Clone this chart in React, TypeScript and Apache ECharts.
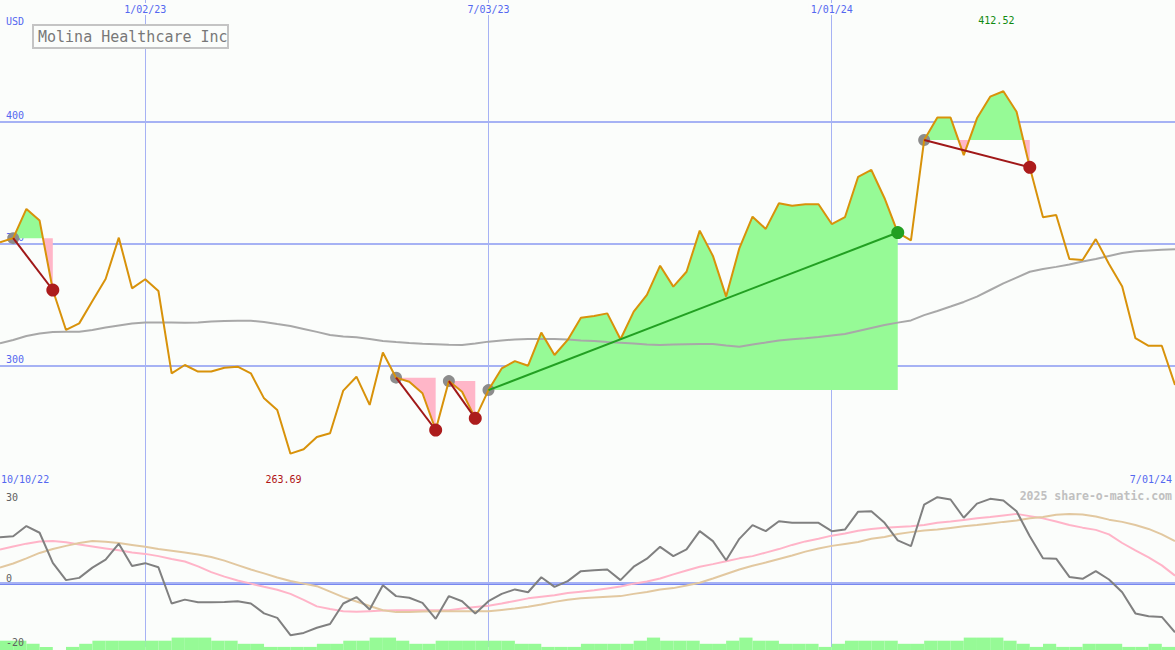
import React, { useEffect, useRef } from 'react';
import * as echarts from 'echarts';

// Weekly sessions shown on the chart
const dates = [
  '10/17/22','10/24/22','10/31/22','11/07/22','11/14/22','11/21/22','11/28/22','12/05/22','12/12/22','12/19/22',
  '12/26/22','1/02/23','1/09/23','1/16/23','1/23/23','1/30/23','2/06/23','2/13/23','2/20/23','2/27/23',
  '3/06/23','3/13/23','3/20/23','3/27/23','4/03/23','4/10/23','4/17/23','4/24/23','5/01/23','5/08/23',
  '5/15/23','5/22/23','5/29/23','6/05/23','6/12/23','6/19/23','6/26/23','7/03/23','7/10/23','7/17/23',
  '7/24/23','7/31/23','8/07/23','8/14/23','8/21/23','8/28/23','9/04/23','9/11/23','9/18/23','9/25/23',
  '10/02/23','10/09/23','10/16/23','10/23/23','10/30/23','11/06/23','11/13/23','11/20/23','11/27/23','12/04/23',
  '12/11/23','12/18/23','12/25/23','1/01/24','1/08/24','1/15/24','1/22/24','1/29/24','2/05/24','2/12/24',
  '2/19/24','2/26/24','3/04/24','3/11/24','3/18/24','3/25/24','4/01/24','4/08/24','4/15/24','4/22/24',
  '4/29/24','5/06/24','5/13/24','5/20/24','5/27/24','6/03/24','6/10/24','6/17/24','6/24/24','7/01/24',
];
const gridDates = ['1/02/23', '7/03/23', '1/01/24'];
const rangeStart = '10/10/22';
const rangeEnd = '7/01/24';

const price = [
  350.5, 352.2, 364.2, 359.4, 330.9, 314.5, 317.2, 326.4, 335.4, 352.4,
  331.6, 335.3, 330.5, 296.7, 300.1, 297.4, 297.4, 299.0, 299.4, 296.7,
  286.4, 281.6, 263.69, 265.5, 270.5, 272.1, 289.6, 295.3, 283.7, 305.2,
  294.9, 293.2, 288.5, 273.4, 293.5, 289.1, 278.2, 289.8, 298.7, 301.7,
  299.8, 313.4, 304.2, 310.4, 319.5, 320.2, 321.3, 310.7, 322.0, 328.9,
  340.9, 332.3, 338.4, 355.3, 344.9, 328.2, 348.0, 361.0, 356.0, 366.5,
  365.5, 366.1, 366.1, 358.0, 360.8, 377.4, 380.2, 368.6, 354.5, 351.3,
  392.5, 401.7, 401.7, 386.3, 401.4, 410.3, 412.52, 404.1, 381.3, 360.8,
  361.7, 343.6, 343.2, 351.8, 341.6, 332.3, 311.1, 308.0, 308.0, 291.9,
];
const priceMA = [
  309.0, 310.4, 312.0, 313.0, 313.7, 313.8, 313.8, 314.5, 315.5, 316.3,
  317.1, 317.6, 317.6, 317.6, 317.5, 317.6, 318.0, 318.2, 318.3, 318.3,
  317.8, 316.9, 316.1, 314.9, 313.7, 312.4, 311.8, 311.5, 310.8, 310.0,
  309.5, 309.1, 308.8, 308.6, 308.4, 308.3, 308.9, 309.7, 310.2, 310.6,
  310.8, 310.8, 310.8, 310.6, 310.2, 310.0, 309.5, 309.2, 308.9, 308.5,
  308.3, 308.5, 308.6, 308.7, 308.7, 308.1, 307.6, 308.5, 309.3, 310.2,
  310.7, 311.1, 311.6, 312.2, 312.8, 314.1, 315.3, 316.5, 317.5, 318.4,
  320.6, 322.3, 324.1, 326.0, 328.2, 330.9, 333.6, 336.0, 338.4, 339.5,
  340.4, 341.4, 342.6, 343.6, 344.9, 346.1, 346.8, 347.1, 347.4, 347.6,
];
const oscillator = [
  14.3, 14.6, 17.8, 15.7, 6.3, 0.9, 1.6, 4.8, 7.3, 12.3,
  5.3, 6.2, 4.9, -6.4, -5.2, -6.0, -6.0, -5.9, -5.7, -6.4,
  -9.5, -10.9, -16.3, -15.6, -14.0, -12.8, -6.4, -4.4, -8.3, -0.7,
  -4.1, -4.6, -6.2, -11.2, -4.1, -5.7, -9.5, -5.7, -3.4, -2.0,
  -2.9, 1.8, -1.2, 0.6, 3.7, 4.0, 4.2, 0.9, 5.1, 7.6,
  11.3, 8.4, 10.5, 16.2, 13.1, 7.1, 13.8, 18.1, 16.2, 19.3,
  18.8, 18.8, 18.8, 16.2, 16.7, 22.3, 22.4, 18.8, 13.3, 11.5,
  24.5, 26.8, 26.1, 20.4, 24.8, 26.3, 25.8, 22.4, 14.6, 7.7,
  7.6, 1.9, 1.3, 3.7, 1.1, -2.9, -9.5, -10.4, -10.6, -15.4,
];
const oscFast = [
  10.5, 11.4, 12.3, 13.0, 13.1, 12.7, 12.0, 11.4, 10.8, 10.2,
  9.5, 9.1, 8.4, 7.5, 6.7, 5.2, 3.4, 2.0, 0.8, -0.2,
  -1.2, -2.1, -3.4, -5.3, -7.3, -8.1, -8.8, -9.0, -8.8, -8.6,
  -8.5, -8.5, -8.5, -8.5, -8.5, -8.0, -7.5, -7.1, -6.4, -5.6,
  -4.8, -4.3, -3.8, -3.1, -2.7, -2.3, -1.7, -1.1, -0.2, 0.5,
  1.4, 2.7, 3.9, 5.1, 5.9, 6.8, 7.7, 8.4, 9.5, 10.6,
  11.9, 13.0, 13.8, 14.8, 15.5, 16.3, 16.9, 17.3, 17.5, 17.7,
  18.1, 18.8, 19.2, 19.7, 20.2, 20.6, 21.1, 21.6, 20.9, 20.2,
  19.2, 18.1, 17.3, 16.6, 15.2, 12.5, 10.2, 8.0, 5.5, 2.3,
];
const oscSlow = [
  4.8, 6.1, 7.7, 9.4, 10.6, 11.6, 12.5, 13.1, 12.9, 12.5,
  11.9, 11.3, 10.6, 10.1, 9.5, 8.9, 8.1, 7.0, 5.6, 4.2,
  3.0, 1.7, 0.6, -0.2, -1.0, -2.7, -4.4, -5.8, -7.2, -8.5,
  -9.1, -9.1, -8.9, -8.8, -8.8, -8.8, -8.8, -8.8, -8.4, -8.0,
  -7.4, -6.7, -5.9, -5.2, -4.8, -4.5, -4.3, -4.1, -3.4, -2.8,
  -2.0, -1.6, -0.8, 0.1, 1.4, 2.8, 4.2, 5.4, 6.4, 7.5,
  8.6, 9.8, 10.8, 11.6, 12.2, 12.8, 13.8, 14.4, 15.3, 15.9,
  16.4, 16.7, 17.2, 17.7, 18.1, 18.6, 19.1, 19.5, 20.2, 20.6,
  21.3, 21.6, 21.4, 20.8, 19.8, 19.1, 18.1, 16.9, 15.2, 13.1,
];
const volumeLevel = [
  3, 3, 2, 1, 0, 1, 2, 3, 3, 3,
  3, 3, 3, 4, 4, 4, 3, 3, 2, 2,
  1, 1, 1, 1, 2, 2, 3, 3, 4, 4,
  3, 2, 2, 3, 3, 3, 3, 3, 3, 2,
  2, 1, 1, 1, 2, 2, 2, 2, 3, 4,
  3, 3, 3, 2, 2, 3, 4, 3, 3, 2,
  2, 2, 1, 2, 3, 3, 3, 3, 2, 2,
  3, 3, 3, 4, 4, 4, 3, 2, 1, 2,
  1, 1, 2, 2, 2, 1, 1, 2, 1,
];
const tradeStart = [1, 30, 34, 37, 70];
const tradeEnd = [4, 33, 36, 68, 78];
const priceTicks = [300, 350, 400];
const oscTicks = [-20, 0];
const oscTop = 30;

const BG = '#fbfdfb';
const MONO = '"DejaVu Sans Mono", monospace';
const BLUE = '#5468f0';
const GRIDC = '#a6b2f4';
const GREEN_FILL = '#96fa96';
const PINK_FILL = '#ffb6c8';
const ORANGE = '#d8920a';

export default function App() {
  const ref = useRef<HTMLDivElement>(null);
  useEffect(() => {
    if (!ref.current) return;
    const chart = echarts.init(ref.current, undefined, { renderer: 'svg' });
    const isGrid = (_i: number, v: string) => gridDates.includes(v);

    const fillSeries = {
      type: 'custom',
      xAxisIndex: 0,
      yAxisIndex: 0,
      silent: true,
      z: 2,
      data: tradeStart.map((s) => [s, price[s]]),
      renderItem: (params: any, api: any) => {
        const k = params.dataIndex;
        const s = tradeStart[k];
        const e = tradeEnd[k];
        const L = price[s];
        const levelY = api.coord([s, L])[1];
        const pts: number[][] = [];
        for (let i = s; i <= e; i++) {
          const c = api.coord([i, price[i]]);
          pts.push([c[0], c[1]]);
          if (i < e) {
            const d0 = price[i] - L;
            const d1 = price[i + 1] - L;
            if (d0 * d1 < 0) {
              const t = d0 / (d0 - d1);
              const c1 = api.coord([i + 1, price[i + 1]]);
              pts.push([c[0] + t * (c1[0] - c[0]), levelY]);
            }
          }
        }
        const x0 = pts[0][0];
        const x1 = pts[pts.length - 1][0];
        const up = pts.map((p) => [p[0], Math.min(p[1], levelY)]);
        const dn = pts.map((p) => [p[0], Math.max(p[1], levelY)]);
        up.push([x1, levelY], [x0, levelY]);
        dn.push([x1, levelY], [x0, levelY]);
        return {
          type: 'group',
          children: [
            { type: 'polygon', shape: { points: up }, style: { fill: GREEN_FILL } },
            { type: 'polygon', shape: { points: dn }, style: { fill: PINK_FILL } },
          ],
        };
      },
    };

    const tradeLines = tradeStart.map((s, k) => {
      const e = tradeEnd[k];
      const win = price[e] > price[s];
      return {
        type: 'line',
        xAxisIndex: 0,
        yAxisIndex: 0,
        data: [[s, price[s]], [e, price[e]]],
        symbol: 'none',
        silent: true,
        z: 4,
        lineStyle: { color: win ? '#22a022' : '#a01818', width: 2 },
      };
    });

    const option: any = {
      animation: false,
      backgroundColor: BG,
      grid: [
        { left: 0, right: 0, top: 0, height: 487, outerBoundsMode: 'none', containLabel: false },
        { left: 0, right: 0, top: 487, height: 160, outerBoundsMode: 'none', containLabel: false },
        { left: 0, right: 0, bottom: 0, height: 31, outerBoundsMode: 'none', containLabel: false },
      ],
      xAxis: [
        {
          type: 'category', gridIndex: 0, data: dates, boundaryGap: false, position: 'top',
          axisLine: { show: false }, axisTick: { show: false },
          axisLabel: {
            inside: true, interval: isGrid, color: BLUE, fontFamily: MONO, fontSize: 10,
            margin: 3, backgroundColor: BG, padding: [1, 2],
          },
          splitLine: { show: true, interval: isGrid, lineStyle: { color: GRIDC, width: 1 } },
        },
        {
          type: 'category', gridIndex: 1, data: dates, boundaryGap: false, position: 'top',
          axisLine: { show: true, lineStyle: { color: '#7888f0', width: 3 } },
          axisTick: { show: false }, axisLabel: { show: false },
          splitLine: { show: true, interval: isGrid, lineStyle: { color: GRIDC, width: 1 } },
        },
        {
          type: 'category', gridIndex: 2, data: dates.slice(1), boundaryGap: true, show: false,
        },
      ],
      yAxis: [
        {
          type: 'value', gridIndex: 0, min: 250, max: 450, interval: 50,
          axisLine: { show: false }, axisTick: { show: false },
          axisLabel: {
            inside: true, margin: 6, color: BLUE, fontFamily: MONO, fontSize: 10,
            lineHeight: 12, verticalAlign: 'middle',
            formatter: (v: number) => (priceTicks.includes(v) ? v + '\n ' : ''),
          },
          splitLine: {
            lineStyle: { color: ['rgba(0,0,0,0)', GRIDC, GRIDC, GRIDC, 'rgba(0,0,0,0)'], width: 2 },
          },
        },
        {
          type: 'value', gridIndex: 1, min: -20, max: 30, interval: 10, z: 2,
          axisLine: { show: false }, axisTick: { show: false },
          axisLabel: {
            inside: true, margin: 6, color: '#606060', fontFamily: MONO, fontSize: 10,
            lineHeight: 10, verticalAlign: 'middle',
            formatter: (v: number) =>
              v === oscTop ? ' \n \n' + v : oscTicks.includes(v) ? v + '\n ' : '',
          },
          splitLine: {
            lineStyle: {
              color: ['rgba(0,0,0,0)', 'rgba(0,0,0,0)', GRIDC, 'rgba(0,0,0,0)', 'rgba(0,0,0,0)', 'rgba(0,0,0,0)'],
              width: 2,
            },
          },
        },
        { type: 'value', gridIndex: 2, min: 0, max: 10, show: false },
      ],
      series: [
        fillSeries,
        {
          type: 'line', xAxisIndex: 0, yAxisIndex: 0, data: priceMA, symbol: 'none', silent: true, z: 2,
          lineStyle: { color: '#a8a8a8', width: 2 },
        },
        {
          type: 'scatter', xAxisIndex: 0, yAxisIndex: 0, silent: true, z: 2,
          data: tradeStart.map((s) => [s, price[s]]), symbolSize: 12,
          itemStyle: { color: '#8c8c8c', opacity: 1 },
        },
        {
          type: 'line', xAxisIndex: 0, yAxisIndex: 0, data: price, symbol: 'none', silent: true, z: 3,
          lineStyle: { color: ORANGE, width: 2 },
        },
        ...tradeLines,
        {
          type: 'scatter', xAxisIndex: 0, yAxisIndex: 0, silent: true, z: 5, symbolSize: 13,
          data: tradeEnd.map((e, k) => ({
            value: [e, price[e]],
            itemStyle: { color: price[e] > price[tradeStart[k]] ? '#22a022' : '#ac1c1c', opacity: 1 },
          })),
        },
        {
          type: 'bar', xAxisIndex: 2, yAxisIndex: 2, data: volumeLevel, silent: true, z: 1,
          barWidth: '100%', barCategoryGap: '0%', itemStyle: { color: GREEN_FILL },
        },
        {
          type: 'line', xAxisIndex: 1, yAxisIndex: 1, data: oscFast, symbol: 'none', silent: true, z: 3,
          lineStyle: { color: '#ffb4c8', width: 2 },
        },
        {
          type: 'line', xAxisIndex: 1, yAxisIndex: 1, data: oscSlow, symbol: 'none', silent: true, z: 3,
          lineStyle: { color: '#e2c8a0', width: 2 },
        },
        {
          type: 'line', xAxisIndex: 1, yAxisIndex: 1, data: oscillator, symbol: 'none', silent: true, z: 3,
          lineStyle: { color: '#808080', width: 2 },
        },
      ],
    };
    chart.setOption(option);

    const maxV = Math.max(...price);
    const minV = Math.min(...price);
    const maxI = price.indexOf(maxV);
    const minI = price.indexOf(minV);
    const pMax = chart.convertToPixel({ gridIndex: 0 }, [maxI, maxV]) as number[];
    const pMin = chart.convertToPixel({ gridIndex: 0 }, [minI, minV]) as number[];
    const font10 = '10px ' + MONO;

    chart.setOption({
      graphic: [
        { type: 'text', x: 6, y: 21, z: 100, style: { text: 'USD', fill: BLUE, font: font10, verticalAlign: 'middle' } },
        {
          type: 'rect', z: 100, shape: { x: 33, y: 25, width: 195, height: 23 },
          style: { fill: BG, stroke: '#c4c4c4', lineWidth: 2 },
        },
        {
          type: 'text', x: 38, y: 37, z: 101,
          style: { text: 'Molina Healthcare Inc', fill: '#787878', font: '15px ' + MONO, verticalAlign: 'middle' },
        },
        {
          type: 'text', x: pMax[0] - 7, y: 20, z: 100,
          style: { text: maxV.toFixed(2), fill: '#108a10', font: font10, align: 'center', verticalAlign: 'middle' },
        },
        {
          type: 'text', x: pMin[0] - 7, y: 479, z: 100,
          style: { text: minV.toFixed(2), fill: '#b01414', font: font10, align: 'center', verticalAlign: 'middle' },
        },
        { type: 'text', x: 1, y: 479, z: 100, style: { text: rangeStart, fill: BLUE, font: font10, verticalAlign: 'middle' } },
        {
          type: 'text', x: 1172, y: 479, z: 100,
          style: { text: rangeEnd, fill: BLUE, font: font10, align: 'right', verticalAlign: 'middle' },
        },
        {
          type: 'text', x: 1172, y: 496, z: 100,
          style: {
            text: '2025 share-o-matic.com', fill: '#c0c0c0', font: 'bold 11.5px ' + MONO,
            align: 'right', verticalAlign: 'middle',
          },
        },
      ],
    });

    return () => chart.dispose();
  }, []);

  return (
    <div
      ref={ref}
      style={{ position: 'absolute', left: 0, top: 0, width: 1175, height: 650 }}
    />
  );
}
